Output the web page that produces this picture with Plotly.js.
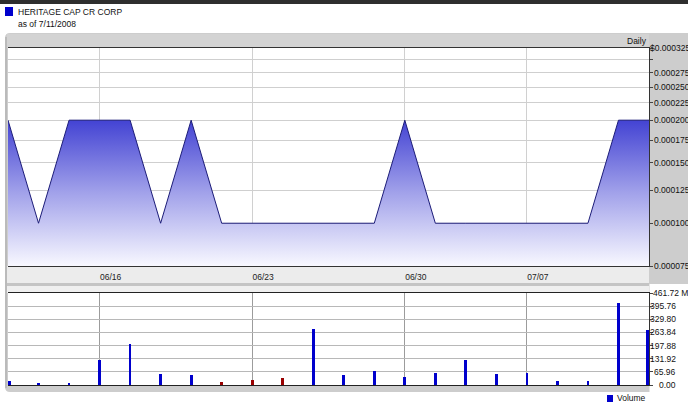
<!DOCTYPE html>
<html><head><meta charset="utf-8">
<script src="https://cdn.plot.ly/plotly-3.0.1.min.js"></script>
<style>html,body{margin:0;padding:0;background:#fff;overflow:hidden}#chart{width:688px;height:403px}</style>
</head><body><div id="chart"></div>
<script>
// ---- data ----
const dates = ['06/11','06/12','06/13','06/16','06/17','06/18','06/19','06/20','06/23','06/24','06/25',
               '06/26','06/27','06/30','07/01','07/02','07/03','07/07','07/08','07/09','07/10','07/11'];
const closePrice = [0.0002,0.0001,0.0002,0.0002,0.0002,0.0001,0.0002,0.0001,0.0001,0.0001,0.0001,
                    0.0001,0.0001,0.0002,0.0001,0.0001,0.0001,0.0001,0.0001,0.0001,0.0002,0.0002];
const volumeM = [18,8,8,127,204,54,49,14,25,36,282,49,70,39,59,127,54,59,19,19,412,275];
const redVolumeDays = ['06/20','06/23','06/24'];
const dateTicks = ['06/16','06/23','06/30','07/07'];
const priceTicks = [0.000075,0.0001,0.000125,0.00015,0.000175,0.0002,0.000225,0.00025,0.000275,0.0003,0.000325];
const priceTickText = ['0.000075','0.000100','0.000125','0.000150','0.000175','0.000200','0.000225','0.000250','0.000275','','$0.000325'];
const volumeTicks = [0,65.96,131.92,197.88,263.84,329.80,395.76,461.72];
const volumeTickText = ['0.00','65.96','131.92','197.88','263.84','329.80','395.76','461.72 M'];
const seriesName = 'HERITAGE CAP CR CORP';
const asOfText = 'as of 7/11/2008';
const periodText = 'Daily';
const volumeName = 'Volume';

// ---- geometry helpers (pixel -> paper) ----
const L = 8, R = 649, T = 48, B = 385;
const fx = p => (p - L) / (R - L);
const fy = p => (B - p) / (B - T);
const FONT = 'Liberation Sans, Arial, sans-serif';
const FS = 8.5;
const BLUE = '#0000cc', RED = '#990000';

function rect(x0, y0, x1, y1, color) {
  return {type:'rect', xref:'paper', yref:'paper', x0:fx(x0), x1:fx(x1), y0:fy(y0), y1:fy(y1),
          fillcolor:color, line:{width:0}, layer:'below'};
}
function pathShape(pts, color) {
  return {type:'path', xref:'paper', yref:'paper', path:pts, fillcolor:color, line:{width:0}, layer:'below'};
}
const panelPath = 'M' + fx(5) + ',' + fy(38) + ' Q' + fx(5) + ',' + fy(33) + ' ' + fx(10) + ',' + fy(33) +
  ' L' + fx(690) + ',' + fy(33) + ' L' + fx(690) + ',' + fy(392) + ' L' + fx(10) + ',' + fy(392) +
  ' Q' + fx(5) + ',' + fy(392) + ' ' + fx(5) + ',' + fy(387) + ' Z';

const shapes = [
  rect(0, 0, 690, 4, '#2e2e2e'),
  pathShape(panelPath, '#cdcdcd'),
  rect(649.5, 284, 690, 403, '#ffffff'),
  rect(7, 266, 649, 283, '#ececec'),
  rect(7, 283, 649, 286, '#c4c4c4'),
  rect(7, 286, 649, 293, '#efefef'),
  rect(7, 34, 649, 48, '#d3d3d3'),
  rect(L, T, R, 266, '#ffffff'),
  rect(L, 293, R, B, '#ffffff'),
  {type:'line', xref:'paper', yref:'paper', x0:fx(6), x1:fx(6), y0:fy(37), y1:fy(388), line:{color:'#a8a8a8', width:1}, layer:'below'},
  rect(5, 7, 13, 16, BLUE),
  rect(607, 395, 613, 402, BLUE)
];

const annFont = {family:FONT, size:FS, color:'#111'};
const annotations = [
  {text:seriesName, x:fx(16), y:fy(12), xanchor:'left', yanchor:'middle'},
  {text:asOfText, x:fx(16), y:fy(23.5), xanchor:'left', yanchor:'middle'},
  {text:periodText, x:fx(649), y:fy(41.5), xanchor:'right', yanchor:'middle'},
  {text:volumeName, x:fx(615), y:fy(398), xanchor:'left', yanchor:'middle'}
].map(a => Object.assign({xref:'paper', yref:'paper', showarrow:false, font:annFont}, a));

priceTicks.forEach((v, i) => {
  if (!priceTickText[i]) return;
  annotations.push({text:priceTickText[i], xref:'paper', yref:'y', x:fx(692), y:Math.log10(v),
    xanchor:'right', yanchor:'middle', showarrow:false, font:annFont});
});
volumeTicks.forEach((v, i) => {
  const isTop = volumeTickText[i].indexOf(' M') >= 0;
  annotations.push({text:volumeTickText[i], xref:'paper', yref:'y2', x:isTop ? fx(651) : fx(678), y:v,
    xanchor:isTop ? 'left' : 'right', yanchor:'middle', showarrow:false, font:annFont});
});

const priceTrace = {
  type:'scatter', mode:'lines', x:dates, y:closePrice, xaxis:'x', yaxis:'y',
  line:{color:'#1c1c78', width:1},
  fill:'tozeroy',
  fillgradient:{type:'vertical', start:priceTicks[0], stop:Math.max.apply(null, closePrice),
                colorscale:[[0,'#f8f8ff'],[0.5,'#a2a2ea'],[1,'#4343d3']]},
  hoverinfo:'skip', showlegend:false
};
const volumeTrace = {
  type:'bar', x:dates, y:volumeM, xaxis:'x2', yaxis:'y2',
  width:dates.map((d, i) => (i === 0 || i === dates.length - 1) ? 0.22 : 0.09),
  marker:{color:dates.map(d => redVolumeDays.indexOf(d) >= 0 ? RED : BLUE), line:{width:0}},
  hoverinfo:'skip', showlegend:false
};

const layout = {
  width:688, height:403,
  margin:{l:L, r:688 - R, t:T, b:403 - B, pad:0},
  paper_bgcolor:'#ffffff', plot_bgcolor:'#ffffff',
  showlegend:false, bargap:0,
  font:{family:FONT, size:FS, color:'#222'},
  xaxis:{type:'category', range:[0, dates.length - 1], anchor:'y', domain:[0,1],
         tickmode:'array', tickvals:dateTicks, ticks:'', ticklabelshift:11, ticklabelstandoff:3,
         tickfont:{family:FONT, size:FS, color:'#222'},
         showgrid:true, gridcolor:'#d0d0d0', gridwidth:1,
         showline:true, linecolor:'#333', linewidth:1, mirror:true, zeroline:false, fixedrange:true},
  yaxis:{type:'log', range:[Math.log10(priceTicks[0]), Math.log10(priceTicks[priceTicks.length-1])],
         domain:[fy(266), 1], anchor:'x', side:'right',
         tickmode:'array', tickvals:priceTicks, showticklabels:false, ticks:'outside', ticklen:3, tickcolor:'#444',
         showgrid:true, gridcolor:'#cfcfcf', gridwidth:1,
         showline:true, linecolor:'#333', linewidth:1, zeroline:false, fixedrange:true},
  xaxis2:{type:'category', matches:'x', anchor:'y2', domain:[0,1],
          tickmode:'array', tickvals:dateTicks, ticks:'', showticklabels:false,
          showgrid:true, gridcolor:'#9c9c9c', gridwidth:1,
          showline:true, linecolor:'#222', linewidth:1, mirror:true, zeroline:false, fixedrange:true},
  yaxis2:{range:[volumeTicks[0], volumeTicks[volumeTicks.length-1]], domain:[0, fy(293)], anchor:'x2', side:'right',
          tickmode:'array', tickvals:volumeTicks, showticklabels:false, ticks:'outside', ticklen:3, tickcolor:'#444',
          showgrid:true, gridcolor:'#b8b8b8', gridwidth:1,
          showline:true, linecolor:'#333', linewidth:1, zeroline:false, fixedrange:true},
  shapes:shapes,
  annotations:annotations
};

Plotly.newPlot('chart', [priceTrace, volumeTrace], layout, {staticPlot:true, displayModeBar:false});
</script>
</body></html>
